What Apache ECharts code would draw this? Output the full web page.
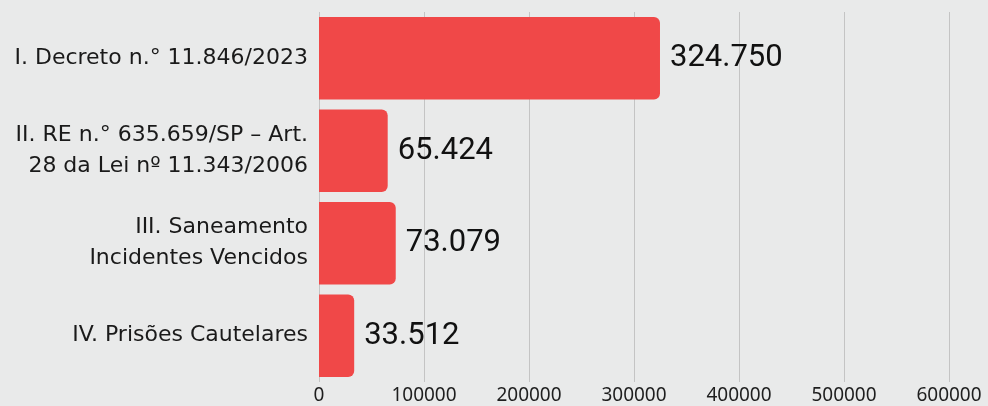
<!DOCTYPE html>
<html>
<head>
<meta charset="utf-8">
<script src="https://cdn.jsdelivr.net/npm/echarts@6/dist/echarts.min.js"></script>
<style>
  html, body { margin: 0; padding: 0; background: #e9eaea; }
  #chart { width: 988px; height: 406px; }
</style>
</head>
<body>
<div id="chart"></div>
<script>
// Categories (top to bottom) and their totals
const categories = [
  'I. Decreto n.° 11.846/2023',
  'II. RE n.° 635.659/SP – Art.\n28 da Lei nº 11.343/2006',
  'III. Saneamento\nIncidentes Vencidos',
  'IV. Prisões Cautelares'
];
const values = [324750, 65424, 73079, 33512];
const valueLabels = ['324.750', '65.424', '73.079', '33.512'];
const xTicks = [0, 100000, 200000, 300000, 400000, 500000, 600000];

const chart = echarts.init(document.getElementById('chart'));
chart.setOption({
  backgroundColor: '#e9eaea',
  animation: false,
  grid: { left: 319, right: 39, top: 12, bottom: 24, containLabel: false },
  xAxis: {
    type: 'value',
    min: xTicks[0],
    max: xTicks[xTicks.length - 1],
    interval: 100000,
    axisLine: { show: false },
    axisTick: { show: false },
    splitLine: { show: true, lineStyle: { color: '#c4c4c4', width: 1 } },
    axisLabel: {
      color: '#1e1e1e',
      fontFamily: 'Noto Sans',
      fontSize: 19,
      margin: 4,
      formatter: v => String(v)
    }
  },
  yAxis: {
    type: 'category',
    inverse: true,
    data: categories,
    axisLine: { show: false },
    axisTick: { show: false },
    axisLabel: {
      color: '#1a1a1a',
      fontFamily: 'DejaVu Sans',
      fontSize: 22,
      lineHeight: 31,
      align: 'right',
      margin: 11
    }
  },
  series: [{
    type: 'bar',
    data: values,
    barCategoryGap: '11%',
    itemStyle: { color: '#f04848', borderRadius: [0, 6, 6, 0] },
    label: {
      show: true,
      position: 'right',
      distance: 10,
      color: '#111',
      fontFamily: 'Roboto',
      fontSize: 31,
      formatter: p => valueLabels[p.dataIndex]
    }
  }]
});
</script>
</body>
</html>
